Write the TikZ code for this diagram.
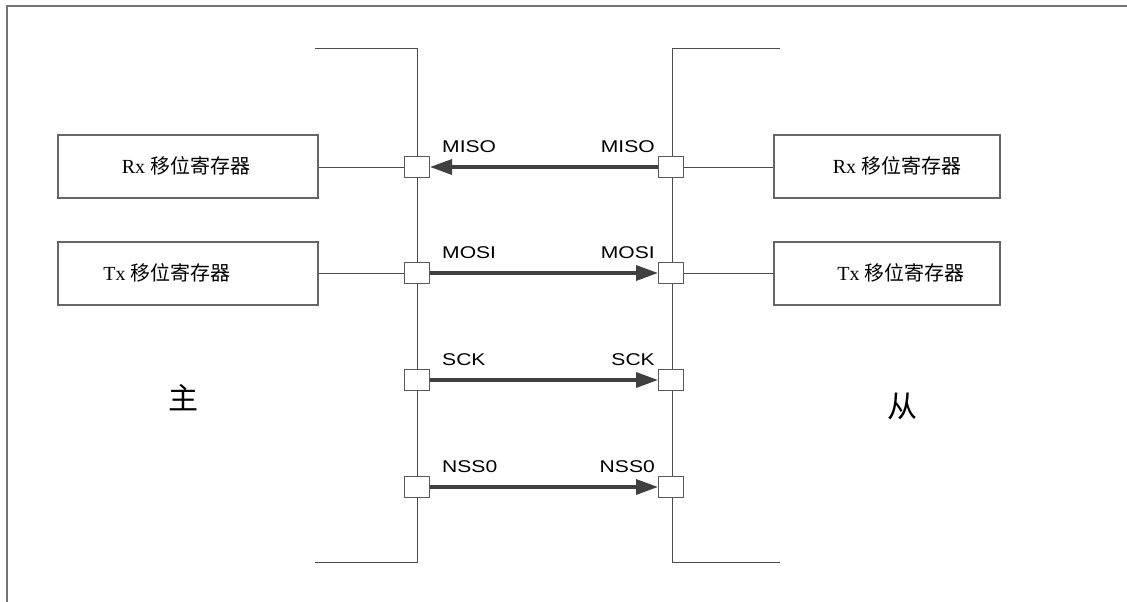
\documentclass[tikz,border=0pt]{standalone}
\usepackage{fontspec}
\setmainfont{Liberation Serif}
\setsansfont{Liberation Sans}
\newfontfamily\cjk{Noto Sans CJK SC}
\usetikzlibrary{arrows.meta}
\begin{document}
\begin{tikzpicture}[x=1pt,y=-1pt,
  port/.style={draw=black!65, fill=white, line width=1pt, minimum width=25pt, minimum height=21pt, inner sep=0pt},
  regbox/.style={draw=black!60, line width=1.2pt, minimum height=63pt, inner sep=0pt},
  wire/.style={draw=black!70, line width=0.9pt},
  frameline/.style={draw=black!55, line width=1.8pt},
  sig/.style={draw=black!75, line width=3.4pt, -{Triangle[length=22pt,width=15pt]}},
  lbl/.style={font=\sffamily\fontsize{17}{17}\selectfont, inner sep=0pt},
  regtxt/.style={font=\fontsize{20}{20}\selectfont, inner sep=0pt},
  side/.style={font=\cjk\fontsize{30}{30}\selectfont, inner sep=0pt}]
\useasboundingbox (0,0) rectangle (1127,602);
% outer frame (top and left only)
\draw[frameline] (7,602) -- (7,6) -- (1127,6);
% buses
\coordinate (lbt) at (315,48); \coordinate (lbb) at (315,562);
\coordinate (rbt) at (780,48); \coordinate (rbb) at (780,562);
\draw[wire] (lbt) -- (417,48) -- (417,562) -- (lbb);
\draw[wire] (rbt) -- (672,48) -- (672,562) -- (rbb);
% register boxes
\node[regbox, minimum width=260pt] (lrx) at (188,166.5) {};
\node[regbox, minimum width=260pt] (ltx) at (188,273.5) {};
\node[regbox, minimum width=226pt] (rrx) at (887,166.5) {};
\node[regbox, minimum width=226pt] (rtx) at (887,273.5) {};
\node[regtxt] (lrxt) at (186,166) {Rx {\cjk 移位寄存器}};
\node[regtxt] (ltxt) at (167,273) {Tx {\cjk 移位寄存器}};
\node[regtxt] (rrxt) at (897,166) {Rx {\cjk 移位寄存器}};
\node[regtxt] (rtxt) at (901,273) {Tx {\cjk 移位寄存器}};
% ports
\foreach \n/\y in {1/167,2/273,3/380,4/487}{
  \node[port] (ls\n) at (417,\y) {};
  \node[port] (rs\n) at (671,\y) {};
}
% box connectors
\draw[wire] (ls1.west -| lrx.east) -- (ls1.west);
\draw[wire] (ls2.west -| ltx.east) -- (ls2.west);
\draw[wire] (rs1.east) -- (rs1.east -| rrx.west);
\draw[wire] (rs2.east) -- (rs2.east -| rtx.west);
% signals
\draw[sig] (rs1.west) -- (ls1.east);
\draw[sig] (ls2.east) -- (rs2.west);
\draw[sig] (ls3.east) -- (rs3.west);
\draw[sig] (ls4.east) -- (rs4.west);
% labels
\foreach \n/\t in {1/MISO,2/MOSI,3/SCK,4/NSS0}{
  \node[lbl, anchor=base west] (ll\n) at ([xshift=12pt,yshift=15pt]ls\n.east) {\scalebox{1.24}[1]{\t}};
  \node[lbl, anchor=base east] (rl\n) at ([xshift=-3pt,yshift=15pt]rs\n.west) {\scalebox{1.24}[1]{\t}};
}
% sides
\node[side] (master) at (183,398) {主};
\node[side] (slave) at (902,406) {从};
\end{tikzpicture}
\end{document}
